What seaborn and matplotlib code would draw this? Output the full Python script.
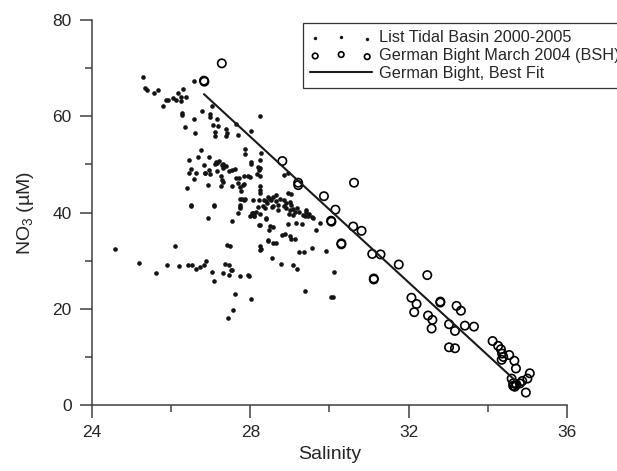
import numpy as np
import pandas as pd
import matplotlib
matplotlib.use("Agg")
import matplotlib.pyplot as plt
import seaborn as sns

# List Tidal Basin 2000-2005 (salinity, NO3)
list_sal = [
    25.30, 25.34, 25.40, 25.57, 25.67, 25.80, 25.87, 25.93, 26.05, 26.12, 26.18, 26.24, 26.30, 26.37, 26.26,
    26.58, 26.28, 26.28, 26.35, 26.58, 26.60, 26.77, 26.98, 26.98, 27.04, 27.16, 27.05, 27.19, 27.11, 27.12,
    27.38, 27.40, 27.38, 27.68, 27.64, 28.02, 28.24, 27.86, 27.86, 28.26, 28.24, 28.02, 28.20, 28.22, 28.16,
    26.44, 26.69, 26.75, 26.95, 26.83, 27.11, 27.14, 27.17, 27.22, 27.28, 27.32, 27.38, 27.30, 27.17, 26.98,
    26.86, 26.62, 26.46, 26.51, 26.58, 26.94, 27.27, 27.29, 27.31, 27.47, 27.61, 27.53, 27.65, 27.72, 27.70,
    27.74, 27.53, 27.27, 27.95, 27.99, 27.84, 27.81, 27.85, 26.41, 26.85, 26.96, 28.03, 28.24, 28.24,
    26.49, 27.09, 27.76, 27.73, 27.79, 27.75, 27.86, 27.84, 28.07, 28.22, 28.24, 28.25, 28.24, 28.31, 28.35,
    28.39, 28.45, 28.49, 28.53, 28.57, 28.64, 28.66, 28.70, 28.57, 28.76, 28.85, 28.91, 29.00, 29.04, 29.08,
    29.17, 29.13, 29.00, 28.90, 28.84, 29.02, 28.96, 28.85, 29.40, 29.23, 29.38, 28.41, 28.37, 28.54, 28.70,
    28.98, 29.09, 29.34, 29.45, 29.59, 28.96, 28.24, 28.15, 28.19, 28.05, 27.99, 28.09, 28.10, 28.06, 27.70,
    27.73, 27.75, 26.94, 27.53, 28.39, 28.22, 28.24, 28.40, 28.48, 28.51, 28.57, 28.94, 29.15, 29.30, 29.40,
    29.48, 29.57, 29.66, 29.76, 28.79, 28.87, 29.00, 29.02, 29.13, 28.45, 28.45, 28.57, 28.66, 28.24, 28.26,
    28.24, 28.55, 28.78, 29.08, 29.19, 29.23, 29.36, 29.55, 29.90, 30.11, 30.03, 30.08, 29.37,
    24.58, 25.19, 25.62, 25.89, 26.10, 26.21, 26.43, 26.54, 26.64, 26.73, 26.84, 26.87, 27.04, 27.08, 27.30,
    27.37, 27.47, 27.50, 27.54, 27.45, 27.42, 27.49, 27.44, 27.57, 27.61, 27.75, 27.93, 27.97, 28.03, 26.50,
    27.08,
]
list_no3 = [
    68.2, 65.8, 65.5, 64.8, 65.5, 62.2, 63.4, 63.3, 63.9, 63.4, 64.9, 64.1, 65.6, 64.1, 63.1,
    67.4, 60.6, 60.2, 57.7, 59.5, 56.6, 61.2, 60.5, 59.8, 62.1, 59.4, 58.2, 57.9, 56.8, 55.8,
    57.3, 56.5, 55.8, 56.2, 58.4, 56.9, 60.0, 53.2, 52.2, 52.3, 50.9, 50.4, 49.5, 48.9, 48.1,
    51.0, 51.5, 53.0, 51.6, 49.8, 50.1, 50.4, 50.3, 50.8, 49.9, 50.1, 49.6, 49.2, 48.6, 48.1,
    48.2, 48.3, 48.3, 49.1, 47.0, 45.7, 47.6, 46.8, 46.4, 48.7, 49.0, 48.8, 47.1, 47.1, 46.1,
    45.4, 45.5, 45.5, 47.5, 47.3, 47.5, 45.7, 45.9, 45.0, 48.2, 48.8, 50.0, 49.2, 47.5,
    41.5, 41.5, 44.4, 42.9, 42.9, 41.5, 42.9, 42.6, 42.6, 42.6, 44.1, 45.5, 44.7, 41.3, 42.7,
    42.3, 43.3, 42.9, 42.6, 43.3, 43.6, 42.3, 41.6, 41.4, 42.8, 42.6, 41.9, 42.2, 41.6, 40.7,
    41.0, 40.2, 40.5, 41.0, 41.3, 43.8, 48.3, 47.8, 40.2, 40.2, 39.2, 41.9, 40.9, 41.2, 40.5,
    39.8, 39.4, 39.5, 39.2, 38.8, 44.0, 39.8, 40.1, 41.2, 40.0, 39.3, 39.3, 39.3, 40.0, 40.0,
    41.0, 41.1, 38.9, 38.3, 38.8, 37.4, 37.4, 38.7, 36.3, 37.1, 36.9, 37.6, 37.8, 37.6, 40.5,
    39.6, 39.0, 36.4, 37.9, 35.3, 35.5, 35.2, 34.5, 34.5, 34.3, 34.0, 33.7, 33.7, 33.1, 32.4,
    32.2, 30.5, 29.3, 29.1, 28.2, 31.8, 31.7, 32.6, 32.0, 27.7, 22.4, 22.5, 23.7,
    32.4, 29.6, 27.4, 29.1, 33.1, 28.8, 29.2, 29.2, 28.3, 28.7, 29.0, 30.0, 27.7, 25.8, 27.4,
    29.4, 29.1, 28.0, 28.0, 27.0, 33.3, 33.1, 18.1, 19.7, 23.0, 26.8, 27.0, 26.9, 22.0, 41.4,
    41.4,
]

# German Bight March 2004 (BSH)
bsh_sal = [
    26.83, 26.84, 27.28, 28.81, 29.21, 29.21, 30.62, 29.86, 30.15, 30.04, 30.05, 30.60, 30.81, 30.30,
    30.30, 31.08, 31.29, 31.12, 31.12, 31.75, 32.47, 32.07, 32.20, 32.14, 32.49, 32.60, 32.58, 32.80,
    32.80, 33.02, 33.17, 33.21, 33.32, 33.02, 33.17, 33.42, 33.65, 34.12, 34.26, 34.33, 34.36, 34.39,
    34.35, 34.54, 34.67, 34.71, 34.60, 34.64, 34.68, 34.64, 34.72, 34.81, 34.87, 35.00, 35.06, 34.96,
]
bsh_no3 = [
    67.4, 67.2, 71.0, 50.7, 46.2, 45.7, 46.2, 43.4, 40.6, 38.3, 38.1, 37.1, 36.2, 33.6,
    33.4, 31.4, 31.3, 26.3, 26.1, 29.2, 27.0, 22.3, 21.0, 19.3, 18.6, 17.7, 15.9, 21.5,
    21.3, 16.8, 15.4, 20.6, 19.6, 12.0, 11.8, 16.5, 16.3, 13.3, 12.3, 11.6, 10.7, 10.0,
    9.4, 10.4, 9.2, 7.6, 5.5, 4.5, 3.8, 4.0, 4.3, 4.5, 5.0, 5.5, 6.6, 2.6,
]

# best fit line end points
fit_sal = [26.83, 34.68]
fit_no3 = [64.6, 5.2]

sns.set_style("ticks")
plt.rcParams['font.family'] = ['Liberation Sans', 'DejaVu Sans']
plt.rcParams['mathtext.default'] = 'regular'

fig = plt.figure(figsize=(6.17, 4.71), dpi=100)
ax = fig.add_axes([0.149, 0.140, 0.770, 0.8175])

sns.scatterplot(x=list_sal, y=list_no3, ax=ax, color="#141414", s=11, linewidth=0,
                label="List Tidal Basin 2000-2005")
sns.scatterplot(x=bsh_sal, y=bsh_no3, ax=ax, facecolor="none", edgecolor="black", s=36,
                linewidth=1.2, label="German Bight March 2004 (BSH)")
sns.lineplot(x=fit_sal, y=fit_no3, ax=ax, color="#1a1a1a", linewidth=1.5,
             label="German Bight, Best Fit")

ax.set_xlim(24, 36)
ax.set_ylim(0, 80)
ax.set_xticks([24, 28, 32, 36])
ax.set_xticks([26, 30, 34], minor=True)
ax.set_yticks([0, 20, 40, 60, 80])
ax.set_yticks([10, 30, 50, 70], minor=True)
ax.tick_params(which="major", length=9, width=1.1, color="#404040", labelsize=12.5, pad=5.5)
ax.tick_params(which="minor", length=5, width=1.1, color="#404040")
for side in ["top", "right"]:
    ax.spines[side].set_visible(False)
for side in ["left", "bottom"]:
    ax.spines[side].set_linewidth(1.1)
    ax.spines[side].set_color("#404040")

ax.set_xlabel("Salinity", fontsize=14, labelpad=4)
ax.set_ylabel("NO$_3$ (µM)", fontsize=14, labelpad=12)

leg = ax.legend(loc="upper left", bbox_to_anchor=(303 / 617, 1 - 23 / 471),
                bbox_transform=fig.transFigure, borderaxespad=0, scatterpoints=3,
                fancybox=False, frameon=True, edgecolor="black", fontsize=11.7,
                handlelength=3.8, handletextpad=0.45, labelspacing=0.18, borderpad=0.45)
leg.get_frame().set_linewidth(0.9)
leg.legend_handles[1].set_sizes([16])
leg.legend_handles[0].set_sizes([6])

fig.savefig("out.png", dpi=100)
